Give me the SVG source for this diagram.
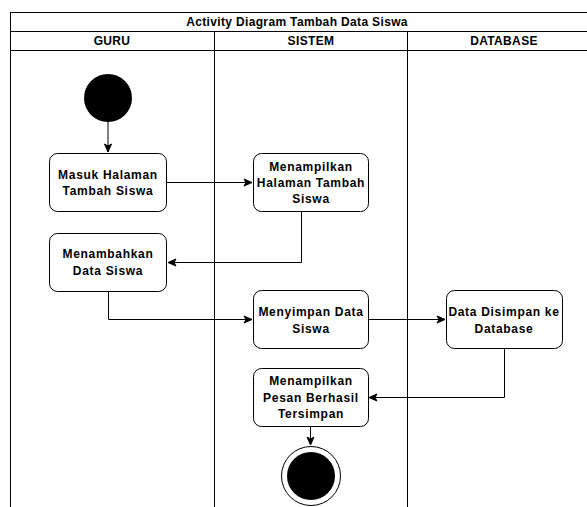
<svg xmlns="http://www.w3.org/2000/svg" width="587" height="507" viewBox="0 0 587 507">
<defs>
<style>
.frame{fill:none;stroke:#000;stroke-width:1}
.box{fill:#fff;stroke:#000;stroke-width:1}
.t{font-family:"Liberation Sans",Arial,sans-serif;font-size:12px;font-weight:bold;fill:#000;text-anchor:middle;letter-spacing:0.7px}
.h{font-family:"Liberation Sans",Arial,sans-serif;font-size:12px;font-weight:bold;fill:#000;text-anchor:middle;letter-spacing:0.35px}
.c{fill:none;stroke:#000;stroke-width:1}
</style>
<marker id="arr" markerWidth="10" markerHeight="10" refX="9" refY="5" orient="auto" markerUnits="userSpaceOnUse">
<path d="M1,1.5 L9,5 L1,8.5 L3,5 z" fill="#000" stroke="#000" stroke-width="1"/>
</marker>
</defs>
<rect x="0" y="0" width="587" height="507" fill="#fff"/>
<g id="swimlanes">
<rect class="frame" x="10.5" y="12.5" width="600" height="520"/>
<line class="frame" x1="10" y1="31.5" x2="587" y2="31.5"/>
<line class="frame" x1="10" y1="50.5" x2="587" y2="50.5"/>
<line class="frame" x1="214.5" y1="31" x2="214.5" y2="507"/>
<line class="frame" x1="407.5" y1="31" x2="407.5" y2="507"/>
<text class="h" x="297" y="26">Activity Diagram Tambah Data Siswa</text>
<text class="h" x="112" y="45">GURU</text>
<text class="h" x="311" y="45">SISTEM</text>
<text class="h" x="504" y="45">DATABASE</text>
</g>
<g id="connectors">
<line class="c" x1="108" y1="122" x2="108" y2="152" marker-end="url(#arr)"/>
<line class="c" x1="167" y1="182.5" x2="252" y2="182.5" marker-end="url(#arr)"/>
<polyline class="c" points="301.5,212 301.5,262.5 168,262.5" marker-end="url(#arr)"/>
<polyline class="c" points="108.5,291 108.5,319.5 252,319.5" marker-end="url(#arr)"/>
<line class="c" x1="368" y1="319.5" x2="445" y2="319.5" marker-end="url(#arr)"/>
<polyline class="c" points="504.5,349 504.5,397.5 369,397.5" marker-end="url(#arr)"/>
<line class="c" x1="310.5" y1="427" x2="310.5" y2="445" marker-end="url(#arr)"/>
</g>
<g id="start">
<circle cx="108" cy="98" r="24" fill="#000"/>
</g>
<g id="masuk-halaman">
<rect class="box" x="49.5" y="153.5" width="117" height="58" rx="8"/>
<text class="t" x="108" y="179">Masuk Halaman</text>
<text class="t" x="108" y="195">Tambah Siswa</text>
</g>
<g id="menampilkan-halaman">
<rect class="box" x="253.5" y="153.5" width="115" height="58" rx="8"/>
<text class="t" x="311" y="170.5">Menampilkan</text>
<text class="t" x="311" y="186.5">Halaman Tambah</text>
<text class="t" x="311" y="202.5">Siswa</text>
</g>
<g id="menambahkan">
<rect class="box" x="49.5" y="233.5" width="117" height="58" rx="8"/>
<text class="t" x="108" y="257.5">Menambahkan</text>
<text class="t" x="108" y="275">Data Siswa</text>
</g>
<g id="menyimpan">
<rect class="box" x="253.5" y="290.5" width="115" height="58" rx="8"/>
<text class="t" x="311" y="316">Menyimpan Data</text>
<text class="t" x="311" y="332.5">Siswa</text>
</g>
<g id="disimpan">
<rect class="box" x="446.5" y="290.5" width="116" height="58" rx="8"/>
<text class="t" x="504" y="316">Data Disimpan ke</text>
<text class="t" x="504" y="332.5">Database</text>
</g>
<g id="pesan-berhasil">
<rect class="box" x="253.5" y="368.5" width="115" height="58" rx="8"/>
<text class="t" x="311" y="385">Menampilkan</text>
<text class="t" x="311" y="401.5">Pesan Berhasil</text>
<text class="t" x="311" y="418">Tersimpan</text>
</g>
<g id="end">
<circle cx="311" cy="476" r="29.5" fill="#fff" stroke="#000" stroke-width="1"/>
<circle cx="311" cy="476" r="24" fill="#000"/>
</g>
</svg>
